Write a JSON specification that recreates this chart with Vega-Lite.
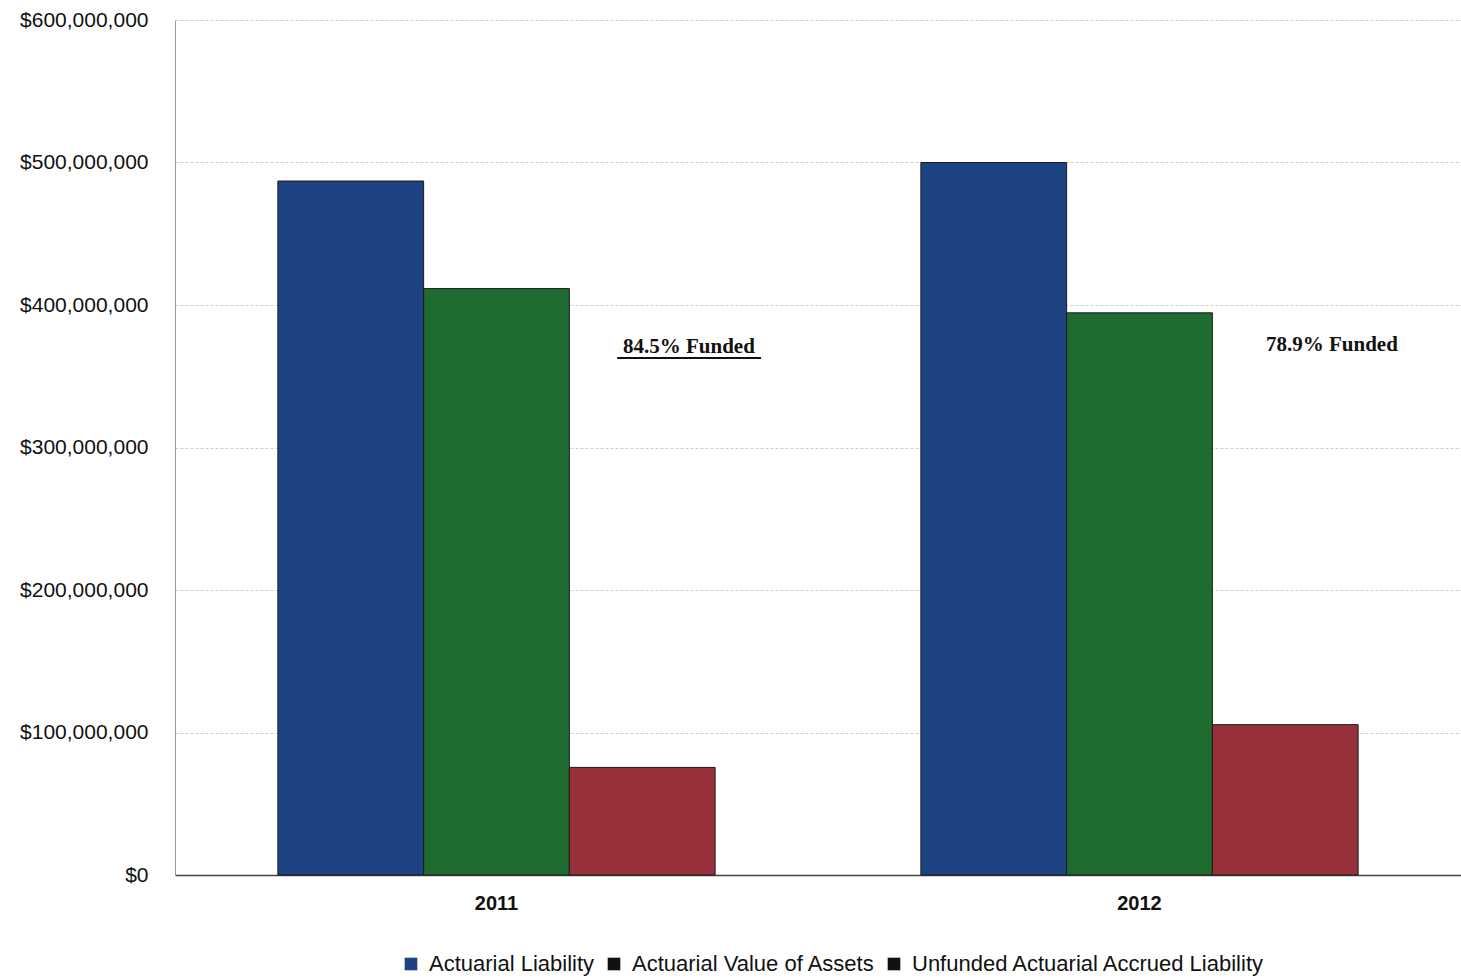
{
  "$schema": "https://vega.github.io/schema/vega-lite/v6.json",
  "autosize": "none",
  "width": 1286,
  "height": 855,
  "padding": {"left": 175, "top": 20, "right": 0, "bottom": 104},
  "background": "white",
  "config": {
    "view": {"stroke": null},
    "font": "Liberation Sans"
  },
  "datasets": {
    "bars": [
      {"year": "2011", "series": "Actuarial Liability", "value": 487000000},
      {"year": "2011", "series": "Actuarial Value of Assets", "value": 411500000},
      {"year": "2011", "series": "Unfunded Actuarial Accrued Liability", "value": 75500000},
      {"year": "2012", "series": "Actuarial Liability", "value": 500000000},
      {"year": "2012", "series": "Actuarial Value of Assets", "value": 394500000},
      {"year": "2012", "series": "Unfunded Actuarial Accrued Liability", "value": 105500000}
    ],
    "notes": [
      {"year": "2011", "label": "84.5% Funded", "value": 370500000},
      {"year": "2012", "label": "78.9% Funded", "value": 372000000}
    ]
  },
  "resolve": {"scale": {"color": "independent"}, "legend": {"color": "independent"}},
  "layer": [
    {
      "data": {"name": "bars"},
      "mark": {"type": "bar", "stroke": "#1a1a1a", "strokeWidth": 1},
      "encoding": {
        "x": {
          "field": "year", "type": "nominal",
          "scale": {"paddingInner": 0.32, "paddingOuter": 0.16},
          "axis": {
            "title": null, "labelAngle": 0, "labelFontSize": 20, "labelFontWeight": "bold",
            "labelColor": "#111", "labelPadding": 18, "ticks": false,
            "domainColor": "#444", "domainWidth": 1.5
          }
        },
        "xOffset": {"field": "series", "type": "nominal", "sort": null},
        "y": {
          "field": "value", "type": "quantitative",
          "scale": {"domain": [0, 600000000], "nice": false},
          "axis": {
            "title": null, "values": [0, 100000000, 200000000, 300000000, 400000000, 500000000, 600000000],
            "format": "$,.0f", "labelFontSize": 21, "labelColor": "#111", "labelPadding": 27,
            "ticks": false, "domainColor": "#999", "gridColor": "#cfcfcf", "gridDash": [3, 2]
          }
        },
        "color": {
          "field": "series", "type": "nominal", "sort": null,
          "scale": {
            "domain": ["Actuarial Liability", "Actuarial Value of Assets", "Unfunded Actuarial Accrued Liability"],
            "range": ["#1d4383", "#1f6b30", "#97303a"]
          },
          "legend": null
        }
      }
    },
    {
      "data": {"name": "bars"},
      "mark": {"type": "bar", "strokeWidth": 0},
      "encoding": {
        "x": {"field": "year", "type": "nominal"},
        "xOffset": {"field": "series", "type": "nominal", "sort": null},
        "y": {"datum": 0},
        "color": {
          "field": "series", "type": "nominal", "sort": null,
          "scale": {
            "domain": ["Actuarial Liability", "Actuarial Value of Assets", "Unfunded Actuarial Accrued Liability"],
            "range": ["#1d4383", "#111111", "#111111"]
          },
          "legend": {
            "title": null, "orient": "none", "legendX": 225, "legendY": 933, "direction": "horizontal",
            "labelFontSize": 22, "labelColor": "#111", "labelLimit": 0, "symbolType": "square", "symbolSize": 160,
            "symbolStrokeWidth": 0, "columnPadding": 8, "labelOffset": 7
          }
        }
      }
    },
    {
      "data": {"name": "notes"},
      "mark": {"type": "text", "font": "Liberation Serif", "fontWeight": "bold", "fontSize": 21, "color": "#111", "align": "center", "baseline": "middle"},
      "encoding": {
        "x": {"field": "year", "type": "nominal", "bandPosition": 0.94},
        "y": {"field": "value", "type": "quantitative"},
        "text": {"field": "label"}
      }
    },
    {
      "data": {"values": [{"year": "2011", "value": 362800000}]},
      "mark": {"type": "rule", "color": "#111", "strokeWidth": 2},
      "encoding": {
        "x": {"field": "year", "type": "nominal", "bandPosition": 0.776},
        "x2": {"datum": "2011", "bandPosition": 1.105},
        "y": {"field": "value", "type": "quantitative"}
      }
    }
  ]
}
